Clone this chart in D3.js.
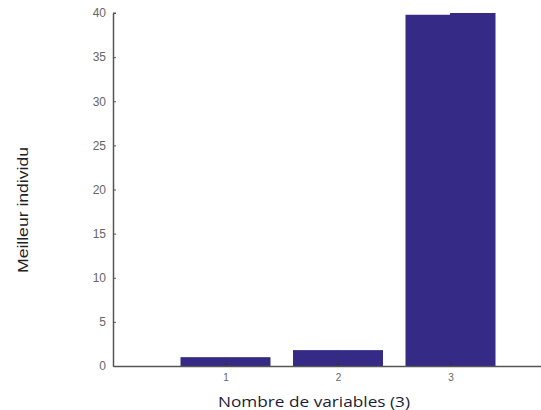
<!DOCTYPE html>
<html>
<head>
<meta charset="utf-8">
<script src="https://cdn.jsdelivr.net/npm/d3@7"></script>
<style>
  html, body { margin: 0; padding: 0; background: #fff; }
  svg { display: block; }
</style>
</head>
<body>
<svg id="chart" width="541" height="410"></svg>
<script>
// Number of variables on the x axis
const categories = [1, 2, 3];
// Best individual found, left and right half of each bar
const leftValues = [1.0, 1.8, 39.8];
const rightValues = [1.0, 1.8, 40.0];
// Axis ticks
const yTicks = [0, 5, 10, 15, 20, 25, 30, 35, 40];
const xLabel = "Nombre de variables (3)";
const yLabel = "Meilleur individu";

const svg = d3.select("#chart");

const x = d3.scaleLinear().domain([0, 4]).range([113, 563]);
const y = d3.scaleLinear().domain([0, 40]).range([366, 13]);
const barWidth = 0.8; // in category units
const barColor = "#352a86";

const bars = svg.append("g");
categories.forEach((c, i) => {
  const x0 = x(c - barWidth / 2), xm = x(c), x1 = x(c + barWidth / 2);
  bars.append("rect")
    .attr("x", x0).attr("width", xm - x0)
    .attr("y", y(leftValues[i])).attr("height", y(0) - y(leftValues[i]))
    .attr("fill", barColor);
  bars.append("rect")
    .attr("x", xm - 0.5).attr("width", x1 - xm + 0.5)
    .attr("y", y(rightValues[i])).attr("height", y(0) - y(rightValues[i]))
    .attr("fill", barColor);
});

// Y axis with inward ticks
const yAxis = d3.axisLeft(y).tickValues(yTicks).tickSizeInner(-3).tickSizeOuter(0).tickPadding(7);
const gy = svg.append("g").attr("transform", `translate(${x(0)},0)`).call(yAxis);
gy.select(".domain").attr("stroke", "#555").attr("stroke-width", 1.5);
gy.selectAll(".tick line").attr("stroke", "#555");
gy.selectAll(".tick text").attr("fill", "#666")
  .style("font-family", "Liberation Sans, Arial, sans-serif").style("font-size", "12px");
svg.append("line").attr("x1", x(0)).attr("x2", x(0) + 3)
  .attr("y1", y(40)).attr("y2", y(40)).attr("stroke", "#555");

// X axis with inward ticks
const xAxis = d3.axisBottom(x).tickValues(categories).tickFormat(d3.format("d"))
  .tickSizeInner(-3).tickSizeOuter(0).tickPadding(8);
const gx = svg.append("g").attr("transform", `translate(0,${y(0)})`).call(xAxis);
gx.select(".domain").attr("stroke", "#555").attr("stroke-width", 1.5);
gx.selectAll(".tick line").attr("stroke", "#333");
gx.selectAll(".tick text").attr("fill", "#666")
  .style("font-family", "Liberation Sans, Arial, sans-serif").style("font-size", "10px");

// Axis titles
svg.append("text")
  .attr("x", 314).attr("y", 406.5)
  .attr("text-anchor", "middle")
  .attr("fill", "#1c1c38")
  .attr("textLength", 192).attr("lengthAdjust", "spacingAndGlyphs")
  .style("font-family", "Open Sans, sans-serif")
  .style("font-size", "14px")
  .text(xLabel);

svg.append("text")
  .attr("transform", "translate(27.5,210) rotate(-90)")
  .attr("text-anchor", "middle")
  .attr("fill", "#222")
  .attr("textLength", 126).attr("lengthAdjust", "spacingAndGlyphs")
  .style("font-family", "Liberation Sans, Arial, sans-serif")
  .style("font-size", "14px")
  .text(yLabel);
</script>
</body>
</html>
